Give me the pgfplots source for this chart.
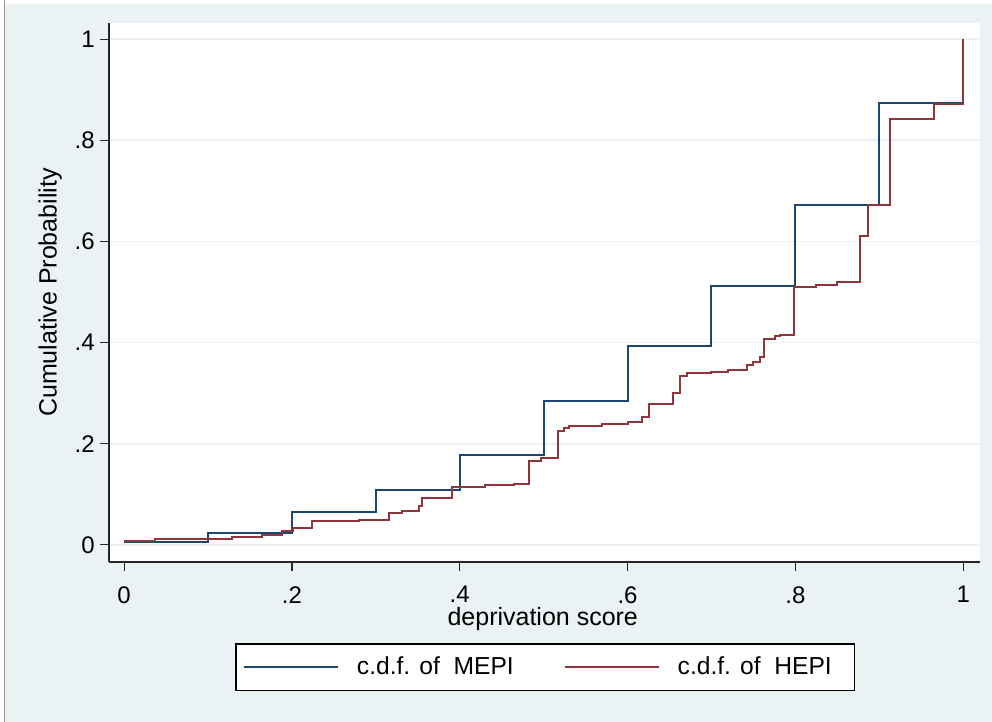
\documentclass[border=0pt]{standalone}
\usepackage{fontspec}
\setmainfont{Liberation Sans}
\usepackage{pgfplots}
\pgfplotsset{compat=1.18}
\definecolor{bgcol}{RGB}{234,242,243}
\definecolor{mepi}{RGB}{26,71,111}
\definecolor{hepi}{RGB}{144,53,59}
\definecolor{gridcol}{RGB}{234,242,243}

\pgfplotstableread{
x y
0.000 0.0055
0.100 0.024
0.200 0.064
0.300 0.109
0.400 0.178
0.500 0.284
0.600 0.393
0.700 0.512
0.800 0.672
0.900 0.873
1.000 1.000
}\mepidata

\pgfplotstableread{
x y
0.000 0.007
0.037 0.012
0.128 0.015
0.164 0.020
0.188 0.028
0.201 0.033
0.224 0.047
0.280 0.049
0.316 0.062
0.331 0.066
0.351 0.076
0.355 0.093
0.391 0.115
0.430 0.118
0.465 0.121
0.482 0.166
0.497 0.171
0.517 0.225
0.524 0.231
0.530 0.235
0.570 0.238
0.600 0.242
0.617 0.252
0.626 0.279
0.654 0.301
0.663 0.333
0.671 0.340
0.700 0.342
0.720 0.345
0.742 0.356
0.750 0.361
0.758 0.372
0.762 0.408
0.776 0.412
0.782 0.415
0.798 0.510
0.825 0.513
0.849 0.520
0.877 0.611
0.886 0.673
0.913 0.843
0.965 0.871
1.000 1.000
}\hepidata

\begin{document}
\begin{tikzpicture}
\fill[white] (-54.5pt,-80pt) rectangle (441.5pt,281pt);
\fill[bgcol] (-52pt,-80pt) rectangle (441.5pt,279pt);
\draw[black!40, line width=0.6pt] (-52.3pt,-80pt) -- (-52.3pt,281pt);
\begin{axis}[
  at={(0,0)}, anchor=south west,
  scale only axis, width=435.5pt, height=269.5pt,
  xmin=-0.018, xmax=1.020, ymin=-0.034, ymax=1.032,
  axis lines*=left,
  axis line style={-, black!85, line width=0.6pt},
  axis background/.style={fill=white},
  tick align=outside, major tick length=4.5pt,
  tick style={black!85, line width=0.6pt},
  xtick={0,0.2,0.4,0.6,0.8,1}, xticklabels={0,.2,.4,.6,.8,1},
  ytick={0,0.2,0.4,0.6,0.8,1}, yticklabels={0,.2,.4,.6,.8,1},
  minor tick num=0,
  ymajorgrids, grid style={gridcol, line width=0.9pt},
  xticklabel style={font=\fontsize{12}{14}\selectfont, anchor=north, inner sep=0pt, yshift=-7.5pt},
  yticklabel style={font=\fontsize{12}{14}\selectfont, anchor=east, inner sep=0pt, xshift=-2.5pt},
  xlabel={deprivation score},
  ylabel={Cumulative Probability},
  xlabel style={at={(axis description cs:0.498,-0.105)}, anchor=center, font=\fontsize{12.5}{15}\selectfont},
  ylabel style={at={(axis description cs:-0.0675,0.5)}, anchor=center, font=\fontsize{12.5}{15}\selectfont},
  legend columns=2,
  legend style={at={(axis description cs:0.501,-0.1957)}, anchor=center, draw=black, line width=0.6pt, fill=white,
    font=\fontsize{12.3}{15}\selectfont, inner xsep=3.5pt, inner ysep=4.5pt,
    /tikz/every odd column/.append style={column sep=7pt},
    /tikz/every even column/.append style={column sep=23pt}},
  legend image code/.code={\draw[#1] (0pt,0pt) -- (47pt,0pt);},
  legend cell align=left,
]
\addplot[mepi, line width=1pt, const plot] table[x=x,y=y] {\mepidata};
\addlegendentry{c.d.f. of\ \ MEPI}
\addplot[hepi, line width=1pt, const plot] table[x=x,y=y] {\hepidata};
\addlegendentry{c.d.f. of\ \ HEPI\rule{6pt}{0pt}}
\end{axis}
\pgfresetboundingbox
\path[use as bounding box] (-54.5pt,-80pt) rectangle (441.5pt,281pt);
\end{tikzpicture}
\end{document}
